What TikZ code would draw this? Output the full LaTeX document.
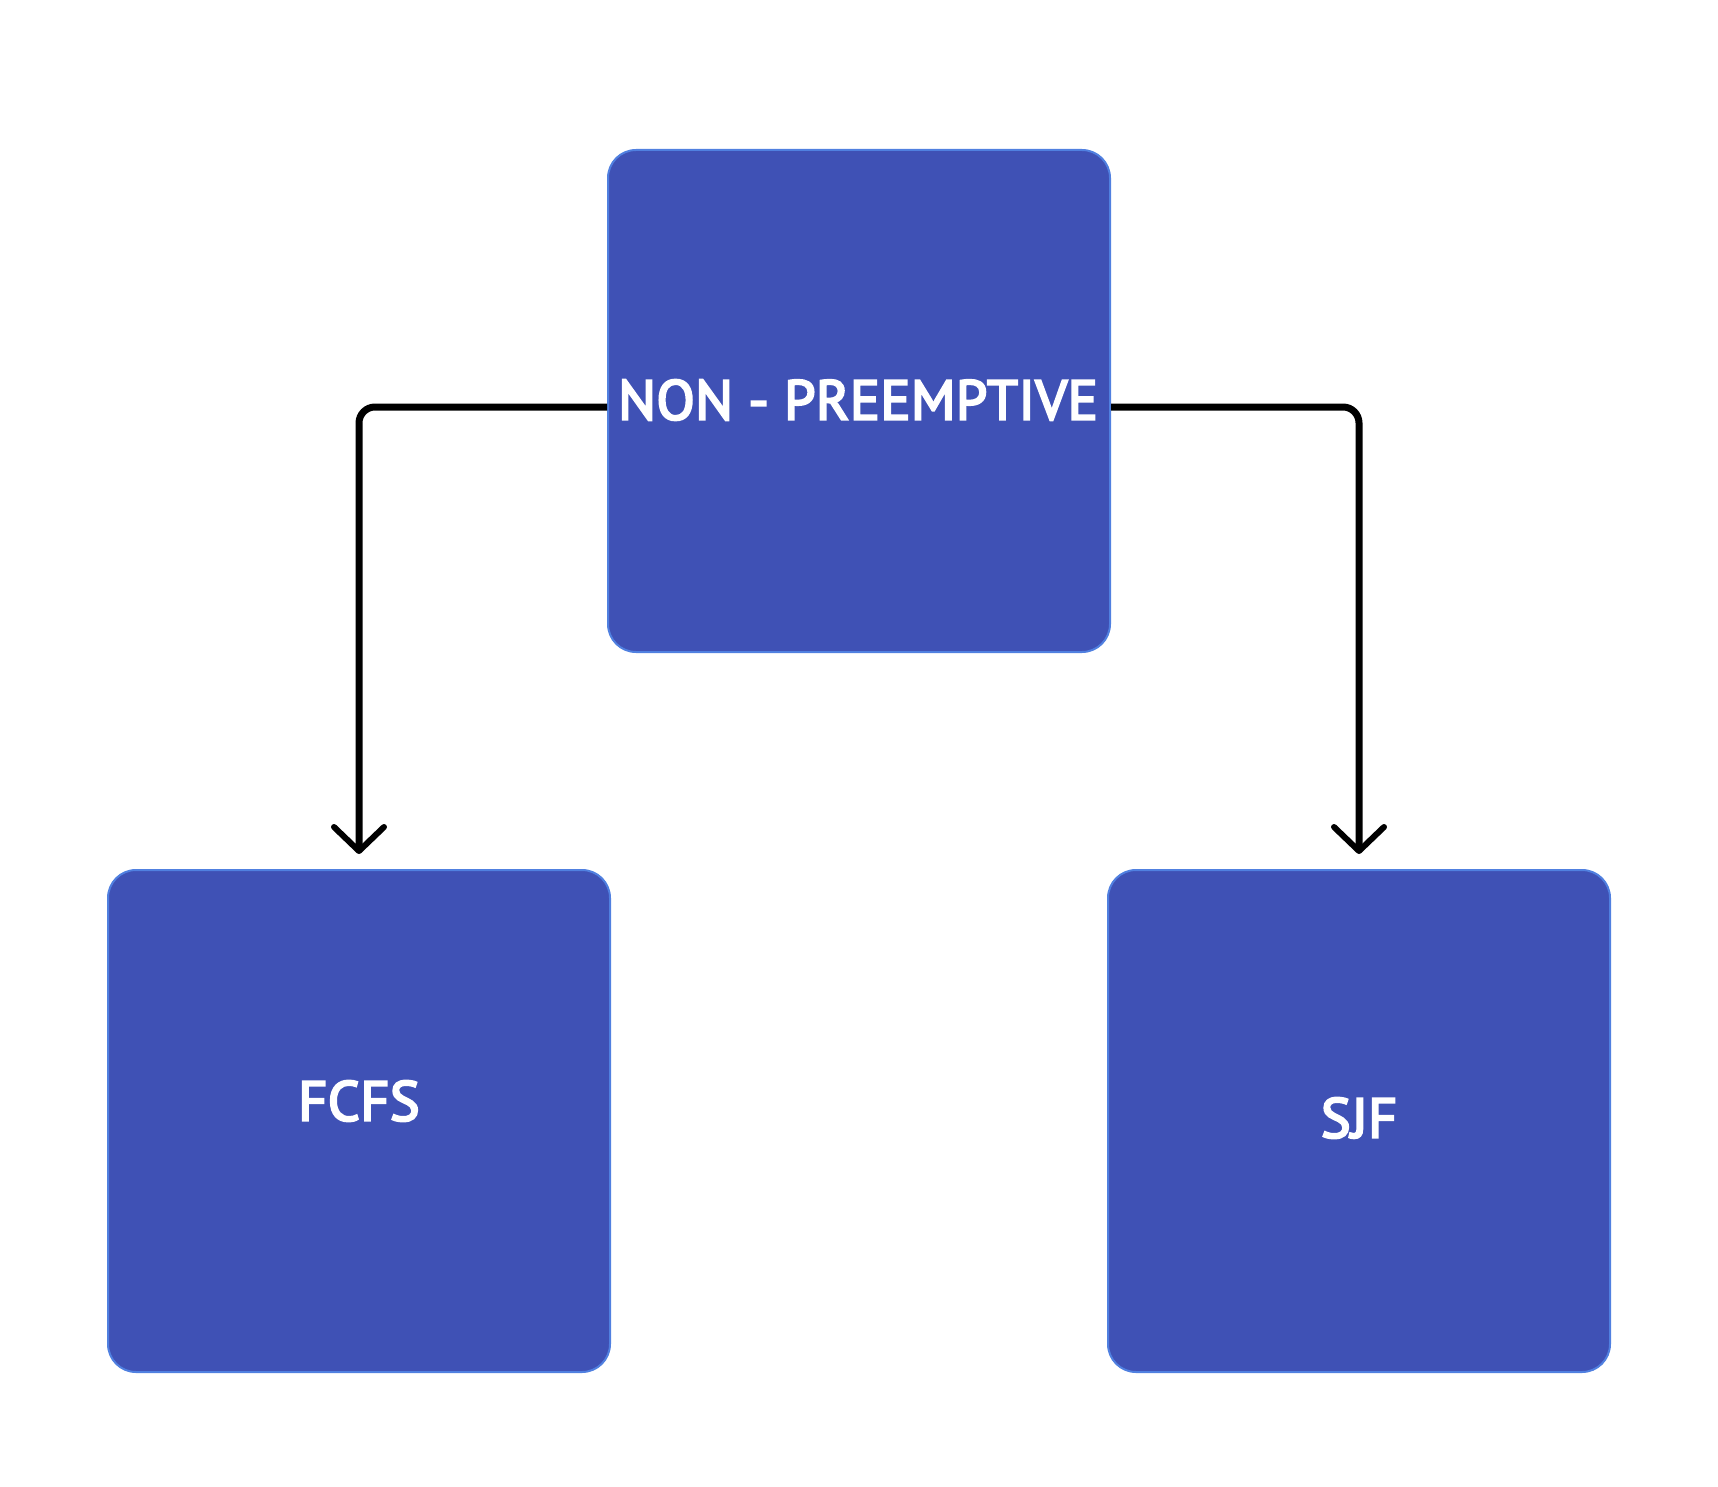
\documentclass[tikz,border=0pt]{standalone}
\usepackage{fontspec}
\newfontfamily\lblfont[FakeBold=4,LetterSpace=1]{PT Sans}
\usetikzlibrary{arrows.meta}
\definecolor{boxfill}{HTML}{3F51B5}
\definecolor{boxline}{HTML}{5080E0}
\begin{document}
\begin{tikzpicture}[x=1pt,y=-1pt,
  box/.style={draw=boxline,line width=2pt,fill=boxfill,rounded corners=28pt,
    minimum width=502pt,minimum height=502pt,inner sep=0pt},
  lbl/.style={text=white,font=\lblfont\fontsize{56}{60}\selectfont,inner sep=0pt},
  conn/.style={line width=7pt,rounded corners=16pt,
    -{Straight Barb[length=24pt,width=50pt,line width=6pt,round]},shorten >=15pt}]
\useasboundingbox (0,0) rectangle (1718,1487);
\node[box] (top) at (859,401) {};
\node[box] (fcfs) at (359,1121) {};
\node[box] (sjf) at (1359,1121) {};
\node[lbl] (ttop) at (858,400) {NON - PREEMPTIVE};
\node[lbl] (tfcfs) at (359,1101) {FCFS};
\node[lbl] (tsjf) at (1359,1118) {SJF};
\draw[conn] ([yshift=-6pt]top.west) -| (fcfs.north);
\draw[conn] ([yshift=-6pt]top.east) -| (sjf.north);
\end{tikzpicture}
\end{document}
